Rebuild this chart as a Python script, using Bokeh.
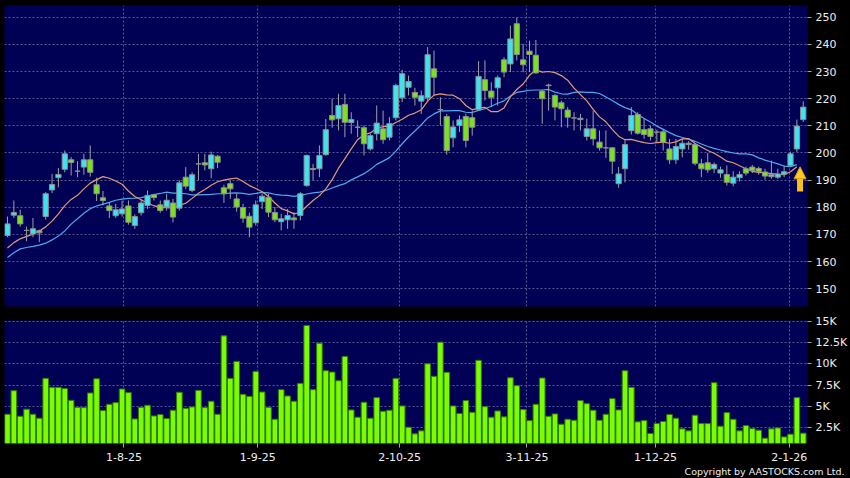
from bokeh.plotting import figure
from bokeh.layouts import column
from bokeh.models import (Range1d, FixedTicker, Title, Arrow, NormalHead,
                          ColumnDataSource, GlobalInlineStyleSheet)
from bokeh.embed import file_html
from bokeh.resources import INLINE

# ---------------- data ----------------
opens = [169.6, 177.1, 176.9, 171.5, 170.2, 171.4, 176.6, 186.4, 190.9, 194.0,
         197.5, 193.3, 194.8, 197.5, 188.3, 183.5, 180.5, 176.9, 177.6, 180.5,
         173.3, 178.0, 180.7, 184.6, 180.9, 180.1, 181.6, 179.7, 191.1, 186.2,
         196.0, 196.4, 194.2, 198.8, 187.2, 188.7, 183.1, 179.9, 176.7, 174.3,
         182.1, 183.7, 178.1, 174.7, 175.4, 176.1, 177.0, 188.0, 194.3, 194.2,
         199.4, 213.8, 212.6, 217.9, 211.2, 209.5, 209.3, 201.5, 207.1, 208.9,
         205.8, 213.0, 220.3, 224.2, 222.3, 219.1, 220.3, 231.0, 216.0, 213.4,
         205.6, 210.1, 213.4, 213.0, 215.9, 227.0, 222.8, 224.0, 234.3, 232.8,
         247.6, 234.3, 237.5, 236.0, 222.8, 224.8, 221.2, 218.5, 215.8, 212.9,
         212.3, 206.1, 208.9, 204.0, 201.9, 201.9, 188.7, 194.2, 208.2, 214.2,
         208.6, 208.9, 207.7, 207.8, 201.5, 197.5, 201.5, 203.1, 203.1, 196.0,
         196.4, 194.2, 192.6, 192.1, 188.9, 190.9, 194.2, 194.8, 194.3, 193.0,
         192.0, 191.1, 192.2, 195.4, 201.5, 212.3]
highs = [176.6, 182.5, 179.1, 172.9, 176.1, 171.8, 185.6, 192.3, 194.5, 200.9,
         198.5, 197.0, 199.7, 202.8, 190.9, 186.0, 181.9, 181.3, 182.5, 182.5,
         177.4, 182.9, 186.2, 185.0, 182.5, 185.0, 183.1, 189.9, 194.8, 192.9,
         199.7, 199.7, 200.5, 199.3, 188.3, 189.9, 185.0, 181.3, 178.0, 182.5,
         185.0, 185.0, 180.1, 177.6, 179.4, 178.2, 185.6, 199.4, 196.0, 202.8,
         212.5, 220.0, 221.8, 221.8, 215.0, 212.0, 210.1, 207.1, 217.5, 215.6,
         213.2, 225.5, 230.6, 228.5, 224.0, 223.0, 239.0, 237.7, 220.5, 214.4,
         212.0, 213.8, 214.4, 215.6, 233.8, 234.1, 226.1, 228.5, 235.3, 246.9,
         249.8, 240.2, 241.4, 241.6, 223.2, 225.5, 221.8, 219.3, 216.9, 215.0,
         214.4, 212.6, 215.6, 208.3, 208.3, 202.1, 194.8, 205.2, 216.9, 215.0,
         212.6, 210.1, 208.6, 208.9, 205.2, 205.2, 205.2, 204.4, 203.6, 197.9,
         200.0, 196.5, 195.0, 195.4, 193.3, 193.3, 195.0, 195.6, 195.0, 194.2,
         197.2, 194.2, 195.4, 200.5, 212.3, 219.0]
lows = [169.0, 176.1, 172.9, 167.5, 169.0, 167.2, 175.5, 185.2, 187.4, 192.9,
        191.7, 191.1, 192.0, 191.3, 182.3, 180.7, 176.1, 176.1, 176.6, 173.6,
        172.1, 177.0, 179.4, 182.5, 178.0, 178.8, 174.5, 178.8, 186.8, 185.6,
        189.9, 193.6, 190.7, 194.4, 181.6, 183.1, 178.4, 174.3, 169.0, 173.3,
        179.4, 176.4, 174.5, 171.5, 172.1, 172.1, 175.2, 187.6, 189.9, 191.1,
        199.0, 209.3, 208.3, 205.8, 207.1, 205.8, 199.1, 200.9, 204.6, 203.4,
        204.6, 212.0, 218.7, 221.2, 217.5, 214.4, 218.7, 221.2, 210.1, 199.4,
        202.1, 207.7, 202.1, 206.4, 215.6, 219.3, 216.9, 217.5, 227.9, 229.8,
        234.1, 229.8, 229.8, 229.2, 210.8, 215.6, 212.0, 209.5, 209.3, 208.3,
        208.3, 204.6, 202.8, 200.9, 198.2, 192.3, 187.2, 189.2, 206.8, 206.8,
        205.2, 204.6, 204.0, 200.9, 196.0, 196.0, 198.4, 201.2, 195.4, 191.1,
        192.7, 192.6, 190.9, 188.0, 187.7, 189.5, 191.7, 192.6, 192.0, 190.2,
        190.5, 190.5, 191.1, 195.0, 200.3, 211.4]
closes = [173.9, 178.1, 173.9, 171.5, 172.1, 170.6, 185.0, 188.4, 192.1, 199.7,
          196.5, 193.3, 197.5, 192.9, 185.0, 182.5, 178.8, 179.1, 179.4, 174.5,
          176.6, 181.6, 184.4, 183.6, 178.8, 182.6, 176.4, 189.0, 187.8, 192.0,
          196.0, 195.6, 199.3, 196.6, 185.0, 186.8, 180.1, 176.0, 172.7, 180.9,
          184.1, 178.2, 175.4, 175.8, 177.0, 175.4, 185.0, 199.1, 193.9, 199.1,
          208.6, 212.2, 217.5, 211.3, 212.3, 209.5, 203.4, 206.4, 211.0, 204.9,
          210.8, 224.9, 229.2, 226.3, 220.5, 221.1, 236.2, 227.9, 216.0, 200.9,
          209.6, 212.2, 204.6, 209.5, 228.2, 223.0, 220.5, 227.7, 229.8, 242.0,
          236.3, 232.5, 236.3, 229.5, 220.0, 225.0, 216.9, 216.3, 213.2, 212.9,
          212.8, 208.9, 205.2, 201.9, 201.9, 197.0, 192.3, 203.1, 213.8, 207.3,
          206.8, 206.1, 207.7, 204.0, 197.5, 202.4, 203.6, 203.6, 196.2, 194.2,
          193.8, 195.8, 193.8, 189.2, 191.1, 192.1, 192.6, 193.6, 193.2, 191.5,
          191.3, 192.3, 193.1, 199.7, 209.9, 216.9]
# volume, thousands of shares
volume_k = [4.07, 6.85, 3.83, 4.66, 4.07, 3.60, 8.30, 7.24, 7.24, 7.09,
            5.71, 4.89, 4.85, 6.58, 8.26, 4.50, 5.24, 5.44, 7.05, 6.62,
            3.52, 4.89, 5.13, 3.87, 4.03, 3.56, 4.54, 6.66, 4.77, 4.93,
            6.89, 4.85, 5.60, 4.07, 13.31, 8.30, 10.30, 6.42, 6.18, 9.12,
            6.69, 4.89, 3.48, 6.97, 6.22, 5.60, 7.71, 14.53, 6.97, 12.45,
            9.20, 9.04, 8.02, 10.89, 4.58, 3.72, 5.48, 3.60, 6.03, 4.42,
            4.54, 8.30, 5.05, 2.54, 1.76, 2.11, 10.02, 8.54, 12.57, 9.01,
            5.05, 4.15, 5.68, 4.30, 10.42, 4.97, 3.72, 4.46, 3.76, 8.38,
            7.44, 4.62, 3.32, 5.24, 8.34, 3.83, 4.11, 2.89, 3.48, 3.36,
            5.68, 5.32, 4.54, 3.36, 4.07, 5.91, 4.58, 9.20, 7.24, 3.17,
            3.32, 1.80, 2.97, 3.21, 4.03, 3.60, 2.35, 2.11, 3.95, 2.97,
            2.97, 7.79, 2.66, 4.26, 3.48, 2.11, 2.74, 2.38, 2.19, 1.25,
            2.35, 2.46, 1.40, 1.72, 6.03, 1.84]
# 10-day (orange) and 20-day (blue) moving averages
ma10 = [165.0, 167.0, 168.4, 169.3, 170.1, 171.3, 172.8, 174.9, 177.6, 180.6,
        182.9, 184.4, 186.8, 188.9, 190.2, 191.3, 190.7, 189.7, 188.5, 186.0,
        184.0, 182.8, 181.5, 180.6, 179.9, 179.9, 179.7, 180.7, 181.5, 183.3,
        185.2, 186.6, 188.1, 189.4, 190.0, 190.5, 190.8, 189.5, 188.0, 186.9,
        185.7, 184.0, 181.6, 179.5, 178.7, 177.6, 178.1, 180.4, 182.5, 184.3,
        186.8, 190.2, 194.4, 197.9, 201.5, 204.9, 206.7, 207.4, 209.1, 209.7,
        209.9, 211.2, 212.4, 213.9, 214.7, 215.9, 219.1, 221.3, 221.8, 221.4,
        221.3, 220.0, 217.5, 215.9, 216.6, 216.8, 215.2, 215.2, 216.6, 220.7,
        223.4, 225.4, 228.6, 230.6, 229.8, 230.0, 229.6, 228.5, 226.8, 223.9,
        221.5, 219.2, 216.1, 213.3, 211.5, 208.7, 206.2, 204.9, 205.0, 204.4,
        203.8, 203.5, 203.8, 204.0, 203.6, 204.1, 205.2, 205.3, 203.5, 202.2,
        200.9, 199.9, 198.5, 197.0, 196.4, 195.3, 194.2, 193.2, 192.9, 192.7,
        192.4, 192.1, 192.0, 193.1, 194.9]
ma20 = [161.5, 163.3, 164.7, 165.2, 165.6, 166.1, 166.8, 168.0, 169.4, 171.3,
        173.8, 175.8, 177.8, 179.5, 180.5, 181.2, 181.8, 182.6, 183.0, 183.3,
        183.4, 183.6, 184.1, 184.7, 185.1, 185.6, 185.2, 185.2, 185.0, 184.6,
        184.6, 184.7, 184.8, 185.0, 185.0, 185.2, 185.3, 185.1, 184.8, 185.1,
        185.5, 185.3, 184.8, 184.5, 184.4, 184.0, 184.4, 184.9, 185.3, 185.6,
        186.2, 187.1, 188.0, 188.7, 190.1, 191.2, 192.4, 193.9, 195.8, 197.0,
        198.3, 200.7, 203.4, 205.9, 208.1, 210.4, 212.9, 214.4, 215.5, 215.5,
        215.6, 215.6, 215.0, 214.9, 215.7, 216.3, 217.2, 218.3, 219.2, 221.0,
        222.3, 222.7, 223.1, 223.2, 223.2, 223.4, 222.4, 221.8, 221.7, 222.3,
        222.5, 222.3, 222.3, 221.9, 220.6, 219.3, 217.9, 216.7, 215.9, 214.2,
        212.7, 211.4, 209.9, 208.7, 207.5, 206.4, 205.7, 205.1, 204.3, 203.3,
        202.4, 201.7, 201.1, 200.5, 200.0, 199.7, 199.7, 199.3, 198.2, 197.4,
        196.7, 196.0, 195.2, 195.0, 195.7]
month_tick_pos = [18.3, 39.3, 61.6, 81.6, 101.8, 122.8]
month_tick_labels = ["1-8-25", "1-9-25", "2-10-25", "3-11-25", "1-12-25", "2-1-26"]
price_ticks = [150, 160, 170, 180, 190, 200, 210, 220, 230, 240, 250]
vol_ticks = [2.5, 5, 7.5, 10, 12.5, 15]
vol_tick_labels = ["2.5K", "5K", "7.5K", "10K", "12.5K", "15K"]

# ---------------- styling ----------------
NAVY = "#000055"
UP = "#3FE3F0"
DOWN = "#7BE21E"
DOJI = "#9A9A9A"
EDGE = "#8E8E8E"
GRID = "#5A5A8E"
TXT = "#EEEEEE"
TICK = "#A8A8A8"
FONT = "DejaVu Sans"

n = len(closes)
idx = list(range(n))
src = ColumnDataSource(dict(
    x=idx, h=highs, l=lows,
    top=[max(o, c) for o, c in zip(opens, closes)],
    bot=[min(o, c) for o, c in zip(opens, closes)],
    col=[UP if c > o else (DOWN if c < o else DOJI) for o, c in zip(opens, closes)],
))

xr = Range1d(-0.47, 125.67)


def style_axis(ax):
    ax.axis_line_color = None
    ax.major_tick_line_color = TICK
    ax.major_tick_out = 4
    ax.major_tick_in = 0
    ax.minor_tick_line_color = None
    ax.major_label_text_color = TXT
    ax.major_label_text_font = FONT
    ax.major_label_text_font_size = "11px"
    ax.major_label_standoff = 4


def style_grid(g):
    g.grid_line_color = GRID
    g.grid_line_dash = "2 2"
    g.grid_line_width = 1


# ---------------- price panel ----------------
p = figure(width=850, height=313, x_range=xr, y_range=Range1d(143.48, 254.31),
           x_axis_location=None, y_axis_location="right",
           output_backend="svg", toolbar_location=None,
           min_border_top=5, min_border_bottom=7, min_border_left=4, min_border_right=42,
           background_fill_color=NAVY, border_fill_color="#000000",
           outline_line_color=None)
p.yaxis.ticker = FixedTicker(ticks=price_ticks)
style_axis(p.yaxis[0])
p.ygrid.ticker = FixedTicker(ticks=price_ticks)
p.xgrid.ticker = FixedTicker(ticks=month_tick_pos)
style_grid(p.ygrid[0])
style_grid(p.xgrid[0])

p.line(idx[:len(ma20)], ma20, line_color="#4FA8EE", line_width=1.2)
p.line(idx[:len(ma10)], ma10, line_color="#E39A72", line_width=1.2)
p.segment(x0="x", y0="l", x1="x", y1="h", source=src, line_color="#A0A0A0", line_width=1)
p.vbar(x="x", width=0.82, top="top", bottom="bot", source=src,
       fill_color="col", line_color=EDGE, line_width=1)

sig_x = len(ma10) - 1 + 0.5
sig_tip = ma10[-1]
p.add_layout(Arrow(end=NormalHead(size=12, fill_color="#FFCC1F", line_color="#E09A00", line_width=1),
                   x_start=sig_x, y_start=sig_tip - 9.1, x_end=sig_x, y_end=sig_tip,
                   line_color="#F7C21C", line_width=6))

# ---------------- volume panel ----------------
p2 = figure(width=850, height=165, x_range=xr, y_range=Range1d(0.62, 15.12),
            y_axis_location="right",
            output_backend="svg", toolbar_location=None,
            min_border_top=7, min_border_bottom=35, min_border_left=4, min_border_right=42,
            background_fill_color=NAVY, border_fill_color="#000000",
            outline_line_color=None)
p2.vbar(x=idx, width=0.88, top=volume_k, bottom=0,
        fill_color="#7CFC00", line_color="#2F7A00", line_width=1)
p2.yaxis.ticker = FixedTicker(ticks=vol_ticks)
p2.yaxis.major_label_overrides = dict(zip(vol_ticks, vol_tick_labels))
p2.xaxis.ticker = FixedTicker(ticks=month_tick_pos)
p2.xaxis.major_label_overrides = dict(zip(month_tick_pos, month_tick_labels))
style_axis(p2.yaxis[0])
style_axis(p2.xaxis[0])
p2.xaxis.major_label_standoff = 5
p2.ygrid.ticker = FixedTicker(ticks=vol_ticks)
p2.xgrid.ticker = FixedTicker(ticks=month_tick_pos)
style_grid(p2.ygrid[0])
style_grid(p2.xgrid[0])

p2.add_layout(Title(text="Copyright by AASTOCKS.com Ltd.", align="right",
                    text_font=FONT, text_font_size="9.5px", text_font_style="normal",
                    text_color=TXT, standoff=0, offset=-37), "below")

layout = column(p, p2, spacing=0,
                stylesheets=[GlobalInlineStyleSheet(css="html, body { background-color: #000000; }")])

open("out.html", "w").write(file_html(layout, INLINE))
